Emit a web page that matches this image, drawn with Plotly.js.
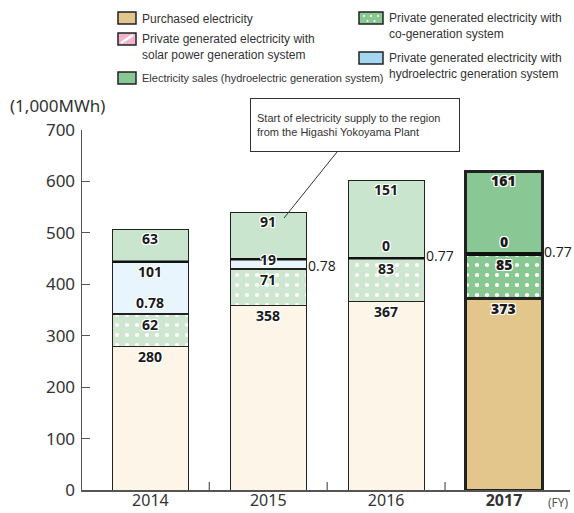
<!DOCTYPE html>
<html>
<head>
<meta charset="utf-8">
<script src="https://cdn.plot.ly/plotly-3.0.1.min.js"></script>
<style>html,body{margin:0;padding:0;background:#fff}#chart{width:574px;height:513px}</style>
</head>
<body>
<div id="chart"></div>
<script>
// ---- data ----
const years = ['2014', '2015', '2016', '2017'];
const tickLabels = ['2014', '2015', '2016', '<b>2017</b>'];
const purchased = [280, 358, 367, 373];
const cogen = [62, 71, 83, 85];
const solar = [0.78, 0.78, 0.77, 0.77];
const hydro = [101, 19, 0, 0];
const sales = [63, 91, 151, 161];
const yTicks = [0, 100, 200, 300, 400, 500, 600, 700];
const legendNames = {
  purchased: 'Purchased electricity',
  solar: 'Private generated electricity with<br>solar power generation system',
  sales: 'Electricity sales (hydroelectric generation system)',
  cogen: 'Private generated electricity with<br>co-generation system',
  hydro: 'Private generated electricity with<br>hydroelectric generation system'
};
const calloutText = 'Start of electricity supply to the region<br>from the Higashi Yokoyama Plant';
const unitLabel = '(1,000MWh)';
const fyLabel = '(FY)';

// ---- styles ----
const HL = 3; // highlighted year index
const pal = {
  purchased: ['#fdf5e8', '#e3c68c'],
  cogen: ['#cfe7d0', '#89c893'],
  solar: ['#fbe0ea', '#f4b3cc'],
  hydro: ['#e9f5fd', '#a5d7f2'],
  sales: ['#c9e5cd', '#89c795']
};
const colorsFor = k => years.map((_, i) => i === HL ? pal[k][1] : pal[k][0]);
const lineW = years.map((_, i) => i === HL ? 3 : 1);
const lineC = '#222';
const bargap = 0.355;
const hw = (1 - bargap) / 2;
const tickFontFam = 'Noto Sans, sans-serif';
const narrowFam = 'Liberation Sans, Arial, sans-serif';

// layout geometry (pixels)
const W = 574, H = 513, ML = 82, MR = 4, MT = 130, MB = 23;
const PW = W - ML - MR, PH = H - MT - MB;
const px = x => (x - ML) / PW;
const py = y => (H - MB - y) / PH;

const xs = years.map((_, i) => i);
function mk(key, y, extra) {
  return Object.assign({
    type: 'bar', x: xs, y: y, name: key, showlegend: false, hoverinfo: 'skip',
    marker: { color: colorsFor(key), line: { color: lineC, width: lineW } }
  }, extra || {});
}
const dotPattern = { shape: '.', fillmode: 'overlay', fgcolor: '#ffffff', fgopacity: 1, size: 10, solidity: 0.14 };
const traces = [
  mk('purchased', purchased),
  // co-generation drawn as two traces so the dot pattern keeps a white foreground
  mk('cogen', cogen.map((v, i) => i === HL ? null : v), {
    marker: { color: pal.cogen[0], line: { color: lineC, width: 1 }, pattern: dotPattern } }),
  mk('cogen', cogen.map((v, i) => i === HL ? v : null), {
    marker: { color: pal.cogen[1], line: { color: lineC, width: 3 }, pattern: dotPattern } }),
  mk('solar', solar),
  mk('hydro', hydro),
  mk('sales', sales)
];

// ---- labels ----
const halo = '-1px -1px 0 #fff, 1px -1px 0 #fff, -1px 1px 0 #fff, 1px 1px 0 #fff, 0 1px 0 #fff, 0 -1px 0 #fff, 1px 0 0 #fff, -1px 0 0 #fff';
const lblFont = i => ({ family: 'Open Sans, Noto Sans, sans-serif', size: 14, color: '#1a1a1a', weight: i === HL ? 800 : 700, shadow: halo });
const annotations = [];
const shapes = [];
const fmt = v => String(v);
years.forEach((_, i) => {
  const c1 = purchased[i];
  const c2 = c1 + cogen[i];
  const c3 = c2 + solar[i];
  const c4 = c3 + hydro[i];
  const c5 = c4 + sales[i];
  const add = (text, y, yshift, font, extra) => annotations.push(Object.assign({
    x: i, y: y, xref: 'x', yref: 'y', text: text, showarrow: false,
    yanchor: 'middle', xanchor: 'center', yshift: yshift, font: font
  }, extra || {}));
  add(fmt(purchased[i]), c1, -10, lblFont(i));
  add(fmt(cogen[i]), c2, -10, lblFont(i));
  // hydro label
  if (hydro[i] > 50) add(fmt(hydro[i]), c4, -10, lblFont(i));
  else if (hydro[i] > 0) add(fmt(hydro[i]), c4, 0, lblFont(i));
  else add(fmt(hydro[i]), c4, 13, lblFont(i));
  // solar label
  if (hydro[i] > 50) add(fmt(solar[i]), c3, 11, lblFont(i));
  else add(fmt(solar[i]), c3, 3, { family: 'Open Sans, Noto Sans, sans-serif', size: 14, color: '#1a1a1a' },
    { x: i + hw, xanchor: 'left', xshift: 0 });
  add(fmt(sales[i]), c5, -9, lblFont(i));
  // thick boundary under electricity sales
  shapes.push({ type: 'line', xref: 'x', yref: 'y', x0: i - hw, x1: i + hw, y0: c4, y1: c4,
    line: { color: '#111', width: i === HL ? 4 : 2.5 } });
});

// x-axis boundary ticks
for (let k = 0; k < years.length - 1; k++) {
  shapes.push({ type: 'line', xref: 'x', yref: 'paper', x0: k + 0.5, x1: k + 0.5, y0: 0, y1: 8 / PH,
    line: { color: '#555', width: 1.2 } });
}

// callout
annotations.push({
  xref: 'paper', yref: 'paper', x: px(250), y: py(98), xanchor: 'left', yanchor: 'top',
  text: calloutText, showarrow: false, align: 'left', valign: 'middle',
  width: 196, height: 40, borderpad: 6, bordercolor: '#333', borderwidth: 1, bgcolor: '#fff',
  font: { family: narrowFam, size: 11, color: '#333' }
});
shapes.push({ type: 'line', xref: 'paper', yref: 'paper', x0: px(337), y0: py(152), x1: px(284), y1: py(218),
  line: { color: '#333', width: 1 } });

// axis labels
annotations.push({ xref: 'paper', yref: 'paper', x: px(8), y: py(105), xanchor: 'left', yanchor: 'middle',
  text: unitLabel, showarrow: false, font: { family: tickFontFam, size: 17, color: '#333' } });
annotations.push({ xref: 'paper', yref: 'paper', x: px(546), y: py(502), xanchor: 'left', yanchor: 'middle',
  text: fyLabel, showarrow: false, font: { family: tickFontFam, size: 12, color: '#555' } });

// ---- custom legend ----
const legFont = { family: narrowFam, size: 12, color: '#333' };
function legendItem(key, x0, x1, y0, y1, tx, ty, text, font) {
  shapes.push({ type: 'rect', xref: 'paper', yref: 'paper', x0: px(x0), x1: px(x1), y0: py(y1), y1: py(y0),
    fillcolor: pal[key][1], line: { color: '#222', width: 1.5 } });
  annotations.push({ xref: 'paper', yref: 'paper', x: px(tx), y: py(ty), xanchor: 'left', yanchor: 'top',
    text: text, showarrow: false, align: 'left', font: font || legFont });
}
legendItem('purchased', 118, 136, 12, 24, 140, 10, legendNames.purchased);
legendItem('solar', 118, 136, 33, 45, 140, 30, legendNames.solar);
legendItem('sales', 118, 136, 72, 84, 140, 70, legendNames.sales,
  { family: narrowFam, size: 11, color: '#333' });
legendItem('cogen', 359, 383, 12, 24, 387, 9, legendNames.cogen);
legendItem('hydro', 359, 383, 52, 64, 387, 49, legendNames.hydro);
// solar swatch stripe
shapes.push({ type: 'line', xref: 'paper', yref: 'paper', x0: px(121), y0: py(43), x1: px(133), y1: py(35),
  line: { color: '#fff', width: 2.5 } });
// cogen swatch dots
[[364, 16], [371, 16], [378, 16], [367.5, 21], [374.5, 21]].forEach(([dx, dy]) => {
  shapes.push({ type: 'circle', xref: 'paper', yref: 'paper', x0: px(dx - 1), x1: px(dx + 1), y0: py(dy + 1), y1: py(dy - 1),
    fillcolor: '#fff', line: { width: 0 } });
});

const layout = {
  width: W, height: H,
  margin: { l: ML, r: MR, t: MT, b: MB, pad: 0 },
  paper_bgcolor: '#fff', plot_bgcolor: '#fff',
  barmode: 'stack', bargap: bargap,
  showlegend: false,
  font: { family: tickFontFam, size: 16, color: '#333' },
  xaxis: {
    type: 'linear', range: [-0.58, 3.56], tickvals: xs, ticktext: tickLabels,
    ticks: '', showgrid: false, zeroline: false, showline: true, linecolor: '#555', linewidth: 1.5,
    tickfont: { family: tickFontFam, size: 16, color: '#333' }, ticklabelstandoff: -5, fixedrange: true
  },
  yaxis: {
    range: [0, 700], tickvals: yTicks, ticks: 'inside', ticklen: 8, tickcolor: '#555', tickwidth: 1.2,
    showgrid: false, zeroline: false, showline: true, linecolor: '#555', linewidth: 1.5,
    tickfont: { family: tickFontFam, size: 17, color: '#333' }, ticklabelstandoff: 2, fixedrange: true
  },
  annotations: annotations,
  shapes: shapes
};
Plotly.newPlot('chart', traces, layout, { displayModeBar: false, staticPlot: true });
</script>
</body>
</html>
